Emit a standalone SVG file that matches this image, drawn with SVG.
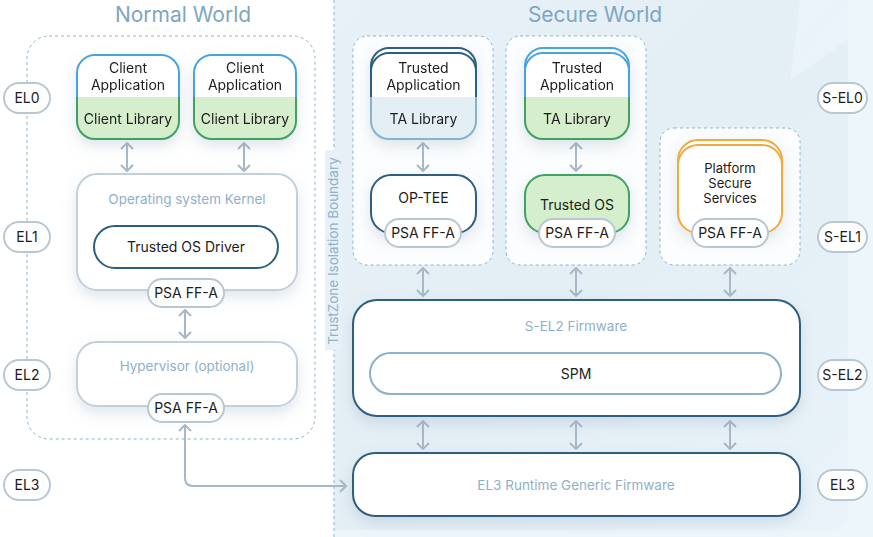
<svg xmlns="http://www.w3.org/2000/svg" width="873" height="537" viewBox="0 0 873 537">
<defs>
<style>
.t{font-family:Inter,"Noto Sans","Liberation Sans",sans-serif;font-size:14px;fill:#1c1c1c;text-anchor:middle;}
.t2{font-family:Inter,"Noto Sans","Liberation Sans",sans-serif;font-size:13px;fill:#1c1c1c;text-anchor:middle;}
.ts{font-family:Inter,"Noto Sans","Liberation Sans",sans-serif;font-size:13.5px;fill:#8fb1c8;text-anchor:middle;}
.title{font-family:Inter,"Noto Sans","Liberation Sans",sans-serif;font-size:21px;fill:#7ea6c1;text-anchor:middle;}
.pill{fill:#fff;stroke:#b9c7d3;stroke-width:2;}
.dash{fill:none;stroke:#8fb3c9;stroke-width:1;stroke-dasharray:3 3;}
.dashw{fill:#fff;fill-opacity:0.85;stroke:#8fb3c9;stroke-width:1;stroke-dasharray:3 3;}
.box{fill:#fff;stroke:#c3d0db;stroke-width:2;}
.dk{fill:#fff;stroke:#2d5f80;stroke-width:2;}
.arr{fill:none;stroke:#a9b8c6;stroke-width:2;marker-start:url(#ah);marker-end:url(#ah);}
</style>
<marker id="ah" viewBox="0 0 8 14" refX="7" refY="7" markerWidth="8" markerHeight="14" markerUnits="userSpaceOnUse" orient="auto-start-reverse">
<path d="M1,1 L7,7 L1,13" fill="none" stroke="#a9b8c6" stroke-width="2"/>
</marker>
<filter id="sh" x="-30%" y="-30%" width="160%" height="170%">
<feDropShadow dx="0" dy="6" stdDeviation="7" flood-color="#7f9bb0" flood-opacity="0.25"/>
</filter>
<linearGradient id="bg" x1="0" y1="0" x2="1" y2="1">
<stop offset="0" stop-color="#e8f1f7"/>
<stop offset="0.5" stop-color="#e3eef5"/>
<stop offset="1" stop-color="#e9f3f9"/>
</linearGradient>
</defs>

<!-- background -->
<rect x="0" y="0" width="873" height="537" fill="#fff"/>
<rect x="334" y="0" width="539" height="537" fill="#edf6fb"/>
<path d="M334,0 H848 V512 A18 18 0 0 1 830 530 H334 Z" fill="url(#bg)"/>
<path d="M800,0 H848 V40 L790,80 Z" fill="#eef6fb" opacity="0.6"/>

<!-- titles -->
<text class="title" x="183" y="22">Normal World</text>
<text class="title" x="595" y="22">Secure World</text>

<!-- boundary -->
<line x1="334" y1="0" x2="334" y2="537" class="dash"/>
<rect x="325" y="150" width="17" height="200" fill="#e8f1f7"/>
<text class="ts" transform="translate(338,251) rotate(-90)" style="font-size:13.5px;fill:#8fb3c9">TrustZone Isolation Boundary</text>

<!-- containers -->
<rect x="27" y="36" width="288" height="403" rx="22" class="dash"/>
<rect x="353" y="36" width="140" height="229" rx="14" class="dashw"/>
<rect x="506" y="36" width="140" height="229" rx="14" class="dashw"/>
<rect x="660" y="128" width="140" height="137" rx="14" class="dashw"/>

<!-- connectors -->
<g id="connectors">
<line x1="127" y1="143" x2="127" y2="171" class="arr"/>
<line x1="244" y1="143" x2="244" y2="171" class="arr"/>
<line x1="185" y1="310" x2="185" y2="338" class="arr"/>
<line x1="423" y1="143" x2="423" y2="171" class="arr"/>
<line x1="576" y1="143" x2="576" y2="171" class="arr"/>
<line x1="423" y1="268" x2="423" y2="296" class="arr"/>
<line x1="576" y1="268" x2="576" y2="296" class="arr"/>
<line x1="730" y1="268" x2="730" y2="296" class="arr"/>
<line x1="423" y1="421" x2="423" y2="449" class="arr"/>
<line x1="576" y1="421" x2="576" y2="449" class="arr"/>
<line x1="730" y1="421" x2="730" y2="449" class="arr"/>
<path d="M185,425 V478 Q185,486 193,486 H346" class="arr"/>
</g>

<!-- EL labels -->
<g id="el0"><rect x="4" y="83" width="46" height="30" rx="15" class="pill"/><text class="t" x="27" y="103">EL0</text></g>
<g id="el1"><rect x="4" y="222" width="46" height="30" rx="15" class="pill"/><text class="t" x="27" y="242">EL1</text></g>
<g id="el2"><rect x="4" y="360" width="46" height="30" rx="15" class="pill"/><text class="t" x="27" y="380">EL2</text></g>
<g id="el3"><rect x="4" y="470" width="46" height="30" rx="15" class="pill"/><text class="t" x="27" y="490">EL3</text></g>
<g id="sel0"><rect x="818" y="83" width="49" height="30" rx="15" class="pill"/><text class="t" x="842.5" y="103">S-EL0</text></g>
<g id="sel1"><rect x="818" y="222" width="49" height="30" rx="15" class="pill"/><text class="t" x="842.5" y="242">S-EL1</text></g>
<g id="sel2"><rect x="818" y="360" width="49" height="30" rx="15" class="pill"/><text class="t" x="842.5" y="380">S-EL2</text></g>
<g id="el3r"><rect x="818" y="470" width="49" height="30" rx="15" class="pill"/><text class="t" x="842.5" y="490">EL3</text></g>

<!-- client apps -->
<g id="client1" filter="url(#sh)">
<path d="M77,97 V73 A18 18 0 0 1 95,55 H161 A18 18 0 0 1 179,73 V97" fill="#fff" stroke="#4aa3df" stroke-width="2"/>
<path d="M77,97 V121 A18 18 0 0 0 95,139 H161 A18 18 0 0 0 179,121 V97 Z" fill="#d5eecb" stroke="none"/>
<path d="M77,97 V121 A18 18 0 0 0 95,139 H161 A18 18 0 0 0 179,121 V97" fill="none" stroke="#3fa164" stroke-width="2"/>
<text class="t" x="128" y="73">Client</text>
<text class="t" x="128" y="90">Application</text>
<text class="t" x="128" y="124">Client Library</text>
</g>
<g id="client2" filter="url(#sh)">
<path d="M194,97 V73 A18 18 0 0 1 212,55 H278 A18 18 0 0 1 296,73 V97" fill="#fff" stroke="#4aa3df" stroke-width="2"/>
<path d="M194,97 V121 A18 18 0 0 0 212,139 H278 A18 18 0 0 0 296,121 V97 Z" fill="#d5eecb" stroke="none"/>
<path d="M194,97 V121 A18 18 0 0 0 212,139 H278 A18 18 0 0 0 296,121 V97" fill="none" stroke="#3fa164" stroke-width="2"/>
<text class="t" x="245" y="73">Client</text>
<text class="t" x="245" y="90">Application</text>
<text class="t" x="245" y="124">Client Library</text>
</g>

<!-- kernel -->
<g id="kernel">
<rect x="77" y="174" width="220" height="116" rx="20" class="box" filter="url(#sh)"/>
<text class="ts" x="187" y="204">Operating system Kernel</text>
<rect x="94" y="226" width="184" height="42" rx="21" class="dk"/>
<text class="t" x="186" y="252">Trusted OS Driver</text>
<rect x="148" y="279" width="76" height="28" rx="14" class="pill"/>
<text class="t" x="186" y="298">PSA FF-A</text>
</g>

<!-- hypervisor -->
<g id="hypervisor">
<rect x="77" y="342" width="220" height="64" rx="20" class="box" filter="url(#sh)"/>
<text class="ts" x="187" y="371">Hypervisor (optional)</text>
<rect x="148" y="394" width="76" height="28" rx="14" class="pill"/>
<text class="t" x="186" y="413">PSA FF-A</text>
</g>

<!-- TA 1 -->
<g id="ta1" filter="url(#sh)">
<path d="M371,100 V66 A18 18 0 0 1 389,48 H458 A18 18 0 0 1 476,66 V100" fill="#fff" stroke="#2d5f80" stroke-width="2"/>
<path d="M371,97 V71 A18 18 0 0 1 389,53 H458 A18 18 0 0 1 476,71 V97" fill="#fff" stroke="#2d5f80" stroke-width="2"/>
<path d="M371,97 V121 A18 18 0 0 0 389,139 H458 A18 18 0 0 0 476,121 V97 Z" fill="#e3eef5"/>
<path d="M371,97 V121 A18 18 0 0 0 389,139 H458 A18 18 0 0 0 476,121 V97" fill="none" stroke="#8ab2cc" stroke-width="2"/>
<text class="t" x="423.5" y="73">Trusted</text>
<text class="t" x="423.5" y="90">Application</text>
<text class="t" x="423.5" y="124">TA Library</text>
</g>
<g id="optee">
<rect x="371" y="175" width="105" height="58" rx="20" class="dk" filter="url(#sh)"/>
<text class="t" x="423.5" y="203">OP-TEE</text>
<rect x="385" y="219" width="76" height="28" rx="14" class="pill"/>
<text class="t" x="423" y="238">PSA FF-A</text>
</g>

<!-- TA 2 -->
<g id="ta2" filter="url(#sh)">
<path d="M525,100 V66 A18 18 0 0 1 543,48 H611 A18 18 0 0 1 629,66 V100" fill="#fff" stroke="#4aa3df" stroke-width="2"/>
<path d="M525,97 V71 A18 18 0 0 1 543,53 H611 A18 18 0 0 1 629,71 V97" fill="#fff" stroke="#4aa3df" stroke-width="2"/>
<path d="M525,97 V121 A18 18 0 0 0 543,139 H611 A18 18 0 0 0 629,121 V97 Z" fill="#d5eecb"/>
<path d="M525,97 V121 A18 18 0 0 0 543,139 H611 A18 18 0 0 0 629,121 V97" fill="none" stroke="#3fa164" stroke-width="2"/>
<text class="t" x="577" y="73">Trusted</text>
<text class="t" x="577" y="90">Application</text>
<text class="t" x="577" y="124">TA Library</text>
</g>
<g id="trustedos">
<rect x="525" y="175" width="104" height="58" rx="20" fill="#d5eecb" stroke="#3fa164" stroke-width="2" filter="url(#sh)"/>
<text class="t" x="577" y="210">Trusted OS</text>
<rect x="539" y="219" width="76" height="28" rx="14" class="pill"/>
<text class="t" x="577" y="238">PSA FF-A</text>
</g>

<!-- Platform secure services -->
<g id="pss">
<g filter="url(#sh)">
<rect x="678" y="140" width="104" height="88" rx="20" fill="#fff" stroke="#f4a93b" stroke-width="2"/>
<rect x="678" y="145" width="104" height="88" rx="20" fill="#fff" stroke="#f4a93b" stroke-width="2"/>
</g>
<text class="t2" x="730" y="173">Platform</text>
<text class="t2" x="730" y="188">Secure</text>
<text class="t2" x="730" y="203">Services</text>
<rect x="692" y="219" width="76" height="28" rx="14" class="pill"/>
<text class="t" x="730" y="238">PSA FF-A</text>
</g>

<!-- S-EL2 firmware -->
<g id="sel2fw">
<rect x="353" y="300" width="447" height="116" rx="24" class="dk" filter="url(#sh)"/>
<text class="ts" x="576" y="331">S-EL2 Firmware</text>
<rect x="370" y="353" width="411" height="41" rx="20.5" fill="#fff" stroke="#8ab2cc" stroke-width="2"/>
<text class="t" x="576" y="379">SPM</text>
</g>

<!-- EL3 runtime -->
<g id="el3fw">
<rect x="353" y="453" width="447" height="63" rx="22" class="dk" filter="url(#sh)"/>
<text class="ts" x="576" y="490">EL3 Runtime Generic Firmware</text>
</g>
</svg>
